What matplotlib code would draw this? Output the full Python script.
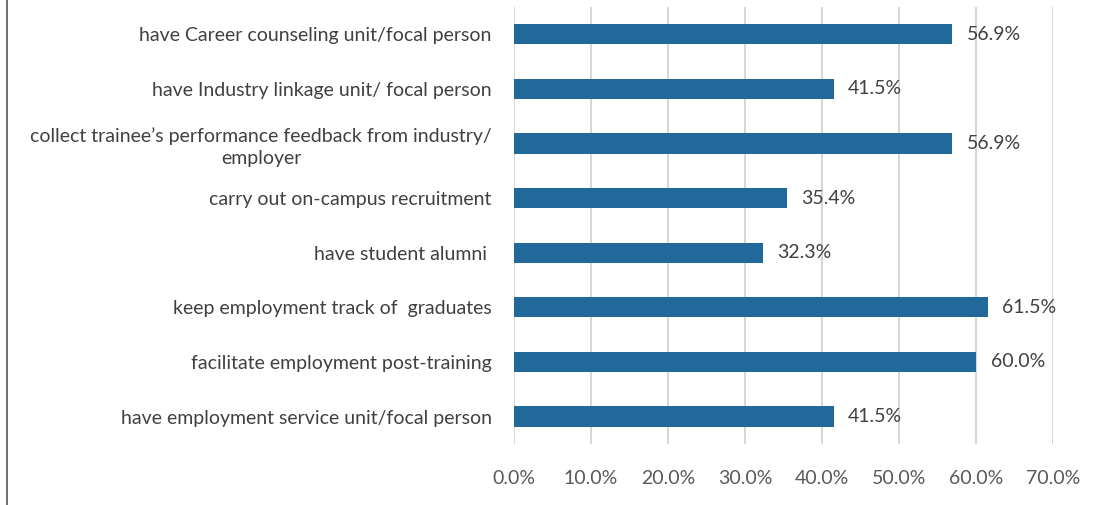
import matplotlib.pyplot as plt
from matplotlib.lines import Line2D

categories = [
    "have employment service unit/focal person",
    "facilitate employment post-training",
    "keep employment track of  graduates",
    "have student alumni ",
    "carry out on-campus recruitment",
    "collect trainee\u2019s performance feedback from industry/\nemployer",
    "have Industry linkage unit/ focal person",
    "have Career counseling unit/focal person",
]
shares = [41.5, 60.0, 61.5, 32.3, 35.4, 56.9, 41.5, 56.9]
xticks = [0, 10, 20, 30, 40, 50, 60, 70]

plt.rcParams['font.family'] = ['Lato', 'DejaVu Sans']
text_color = '#404040'

fig = plt.figure(figsize=(10.97, 5.05), dpi=100)
ax = fig.add_axes([0.4686, 0.121, 0.4914, 0.865])

ypos = range(len(categories))
ax.barh(ypos, shares, height=0.37, color='#21689b', zorder=3)
for y, v in zip(ypos, shares):
    ax.text(v + 1.9, y, f"{v:.1f}%", va='center', ha='left',
            fontsize=14, color=text_color)

ax.set_xlim(0, 70)
ax.set_ylim(-0.5, len(categories) - 0.5)
ax.set_xticks(xticks)
ax.set_xticklabels([f"{t:.1f}%" for t in xticks], fontsize=14, color='#595959')
ax.set_yticks(list(ypos))
ax.set_yticklabels(categories, fontsize=14, color=text_color,
                   multialignment='center', linespacing=1.35)
ax.tick_params(axis='x', length=0, pad=19)
ax.tick_params(axis='y', length=0, pad=16)
ax.grid(axis='x', color='#d0d0d0', linewidth=1.2, zorder=0)
for s in ax.spines.values():
    s.set_visible(False)

# thin frame edge on the left side
fig.add_artist(Line2D([0.0065, 0.0065], [0, 1], transform=fig.transFigure,
                      color='#555555', linewidth=1.2))

fig.savefig('out.png', dpi=100)
